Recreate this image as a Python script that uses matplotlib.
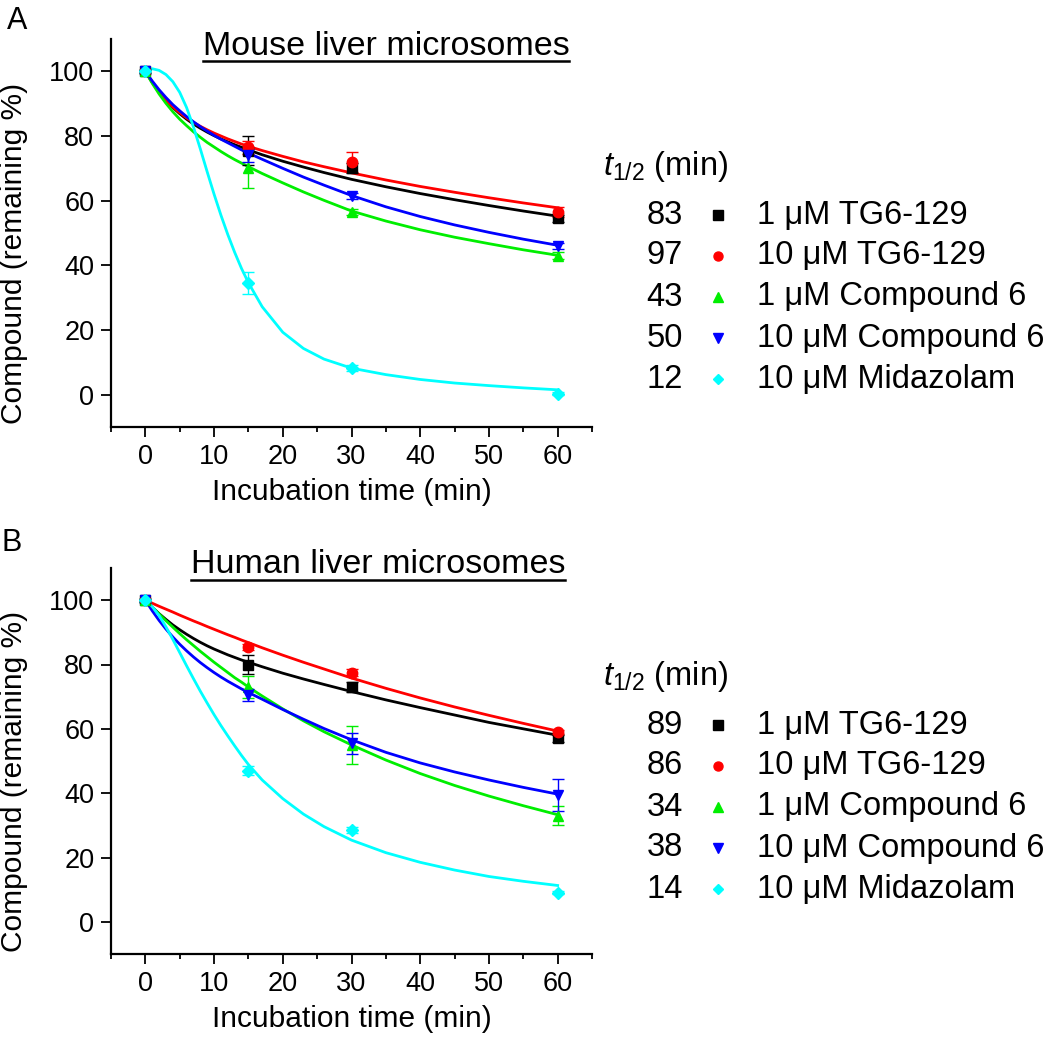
import matplotlib
matplotlib.use('Agg')
import matplotlib.pyplot as plt
from matplotlib.lines import Line2D
from matplotlib.ticker import MultipleLocator

plt.rcParams['font.family'] = ['Liberation Sans', 'DejaVu Sans']
plt.rcParams['mathtext.fontset'] = 'custom'
plt.rcParams['mathtext.rm'] = 'Liberation Sans'
plt.rcParams['mathtext.it'] = 'Liberation Sans:italic'

# measured time points (min)
time_points = [0, 15, 30, 60]

series_labels = ['1 μM TG6-129', '10 μM TG6-129', '1 μM Compound 6',
                 '10 μM Compound 6', '10 μM Midazolam']
series_colors = ['#000000', '#ff0000', '#00ee00', '#0000ff', '#00ffff']
series_markers = ['s', 'o', '^', 'v', 'D']

# remaining compound (%), order as series_labels
mouse_mean = [[100, 75.5, 70, 54.5],
              [100, 76.5, 72, 56.5],
              [100, 70, 56.5, 43],
              [100, 74, 61.5, 46],
              [100, 34.5, 8.3, 0.3]]
mouse_err = [[0.5, 4.6, 1.5, 1],
             [0.5, 2, 3, 1.5],
             [0.5, 6, 1, 1],
             [0.5, 2, 1, 1],
             [0.5, 3.5, 1, 0.5]]
human_mean = [[100, 80, 73, 57],
              [100, 85.5, 77.5, 59],
              [100, 73, 55, 33],
              [100, 70.5, 55.5, 39.5],
              [100, 47, 28.5, 9]]
human_err = [[0.5, 3, 1.5, 1],
             [0.5, 1, 1, 0.5],
             [0.5, 3.5, 6, 3],
             [0.5, 2, 3.2, 5],
             [0.5, 1.5, 1, 0.5]]

mouse_half_life = [83, 97, 43, 50, 12]
human_half_life = [89, 86, 34, 38, 14]

# fitted curves
fit_time = [0, 1, 2, 3, 4, 5, 6, 7, 8, 9, 10, 11, 12, 13, 14, 15,
            17, 20, 23, 26, 30, 35, 40, 45, 50, 55, 60]
mouse_fit = [
    [100, 96.6, 93.6, 91.0, 88.8, 86.9, 85.2, 83.7, 82.4, 81.2, 80.1, 79.1, 78.2, 77.3, 76.5, 75.7,
     74.2, 72.2, 70.4, 68.7, 66.6, 64.3, 62.2, 60.3, 58.5, 56.8, 55.2],
    [100, 96.6, 93.6, 91.1, 89.0, 87.2, 85.6, 84.2, 83.0, 81.9, 80.9, 80.0, 79.1, 78.3, 77.5, 76.8,
     75.5, 73.7, 72.0, 70.5, 68.6, 66.4, 64.4, 62.6, 60.9, 59.3, 57.8],
    [100, 96.3, 93.0, 90.1, 87.5, 85.2, 83.2, 81.3, 79.6, 78.0, 76.6, 75.2, 73.9, 72.7, 71.6, 70.5,
     68.4, 65.5, 62.7, 60.1, 56.8, 53.7, 51.0, 48.7, 46.7, 44.8, 43.1],
    [100, 97.0, 94.3, 91.9, 89.7, 87.8, 86.0, 84.4, 82.9, 81.5, 80.2, 79.0, 77.9, 76.8, 75.7, 74.7,
     72.8, 70.0, 67.3, 64.8, 61.6, 58.1, 55.1, 52.5, 50.2, 48.1, 46.2],
    [100, 100.8, 100.3, 99.0, 96.8, 93.5, 88.8, 82.8, 76.0, 68.9, 62.0, 55.5, 49.5, 44.0, 39.0, 34.6,
     27.2, 19.3, 14.3, 11.0, 8.2, 6.2, 4.7, 3.6, 2.8, 2.1, 1.5],
]
human_fit = [
    [100, 97.8, 95.8, 94.0, 92.3, 90.8, 89.4, 88.1, 86.9, 85.8, 84.8, 83.9, 83.0, 82.2, 81.4, 80.7,
     79.3, 77.3, 75.5, 73.8, 71.6, 69.0, 66.6, 64.3, 62.0, 60.0, 58.0],
    [100, 99.05, 98.1, 97.2, 96.3, 95.35, 94.45, 93.55, 92.7, 91.8, 90.95, 90.1, 89.25, 88.45, 87.6, 86.8,
     85.2, 82.9, 80.7, 78.6, 75.8, 72.6, 69.6, 66.8, 64.2, 61.7, 59.3],
    [100, 97.8, 95.7, 93.6, 91.6, 89.6, 87.7, 85.9, 84.1, 82.4, 80.7, 79.1, 77.5, 75.9, 74.5, 73.0,
     70.2, 66.2, 62.5, 59.1, 55.0, 50.3, 46.1, 42.4, 39.1, 36.1, 33.3],
    [100, 96.7, 93.7, 91.0, 88.55, 86.3, 84.25, 82.35, 80.6, 79.0, 77.5, 76.1, 74.8, 73.6, 72.4, 71.3,
     69.2, 66.0, 63.0, 60.1, 56.6, 52.7, 49.4, 46.6, 44.1, 41.8, 39.7],
    [100, 98.0, 95.2, 91.7, 87.8, 83.7, 79.6, 75.6, 71.7, 68.0, 64.4, 61.0, 57.8, 54.7, 51.7, 48.9,
     44.1, 38.3, 33.5, 29.6, 25.4, 21.5, 18.5, 16.1, 14.1, 12.6, 11.3],
]

W, H = 1050, 1038


def fx(px):
    return px / W


def fy(px):
    return 1 - px / H


def draw_panel(ax, means, errs, fits):
    for i in range(5):
        ax.plot(fit_time, fits[i], color=series_colors[i], lw=2.0, zorder=2)
    for i in range(5):
        ax.errorbar(time_points, means[i], yerr=errs[i], color=series_colors[i],
                    marker=series_markers[i], markersize=7.5 if series_markers[i] != 'D' else 6.5,
                    linestyle='none', elinewidth=1, capsize=4.5, capthick=1, zorder=3)
    ax.set_xlim(-5, 65)
    ax.set_ylim(-10, 110)
    ax.xaxis.set_major_locator(MultipleLocator(10))
    ax.set_xticks([-5, 5, 15, 25, 35, 45, 55, 65], minor=True)
    ax.set_yticks([0, 20, 40, 60, 80, 100])
    ax.spines['top'].set_visible(False)
    ax.spines['right'].set_visible(False)
    for s in ['left', 'bottom']:
        ax.spines[s].set_linewidth(1.6)
    ax.tick_params(which='major', direction='out', length=7, width=1.3, labelsize=19.5, pad=5)
    ax.tick_params(which='minor', direction='out', length=3.5, width=1.3)
    ax.set_xlabel('Incubation time (min)', fontsize=21.5, labelpad=6)
    ax.set_ylabel('Compound (remaining %)', fontsize=21.5)
    ax.yaxis.set_label_coords(-0.172, 0.447)


def draw_legend(fig, header_y, half_lives):
    fig.text(fx(603), fy(header_y), r'$t_{1/2}$ (min)', fontsize=23.5, va='center', ha='left')
    for i in range(5):
        y = fy(header_y + 48 + 41 * i)
        fig.text(fx(683), y, str(half_lives[i]), fontsize=23.5, ha='right', va='center')
        fig.add_artist(Line2D([fx(718)], [y], marker=series_markers[i], color=series_colors[i],
                              markersize=6.5 if series_markers[i] != 'D' else 5.5,
                              linestyle='none', transform=fig.transFigure))
        fig.text(fx(757), y, series_labels[i], fontsize=23.5, ha='left', va='center')


fig = plt.figure(figsize=(W / 100, H / 100), dpi=100)
ax_a = fig.add_axes([fx(111), fy(427), fx(592 - 111), (427 - 39) / H])
ax_b = fig.add_axes([fx(111), fy(954), fx(592 - 111), (954 - 568) / H])

draw_panel(ax_a, mouse_mean, mouse_err, mouse_fit)
draw_panel(ax_b, human_mean, human_err, human_fit)

draw_legend(fig, 167, mouse_half_life)
draw_legend(fig, 677, human_half_life)

fig.text(fx(7), fy(6), 'A', fontsize=22, va='top', ha='left')
fig.text(fx(2), fy(528), 'B', fontsize=22, va='top', ha='left')

titles = [fig.text(fx(386), fy(55), 'Mouse liver microsomes', fontsize=24.5, ha='center', va='baseline'),
          fig.text(fx(378), fy(573), 'Human liver microsomes', fontsize=24.5, ha='center', va='baseline')]
underline_y = [61, 580]

fig.canvas.draw()
inv = fig.transFigure.inverted()
for t, uy in zip(titles, underline_y):
    bb = t.get_window_extent()
    x0, _ = inv.transform((bb.x0, 0))
    x1, _ = inv.transform((bb.x1, 0))
    fig.add_artist(Line2D([x0, x1], [fy(uy), fy(uy)], color='black', lw=1.8,
                          transform=fig.transFigure))

fig.savefig('out.png', dpi=100)
